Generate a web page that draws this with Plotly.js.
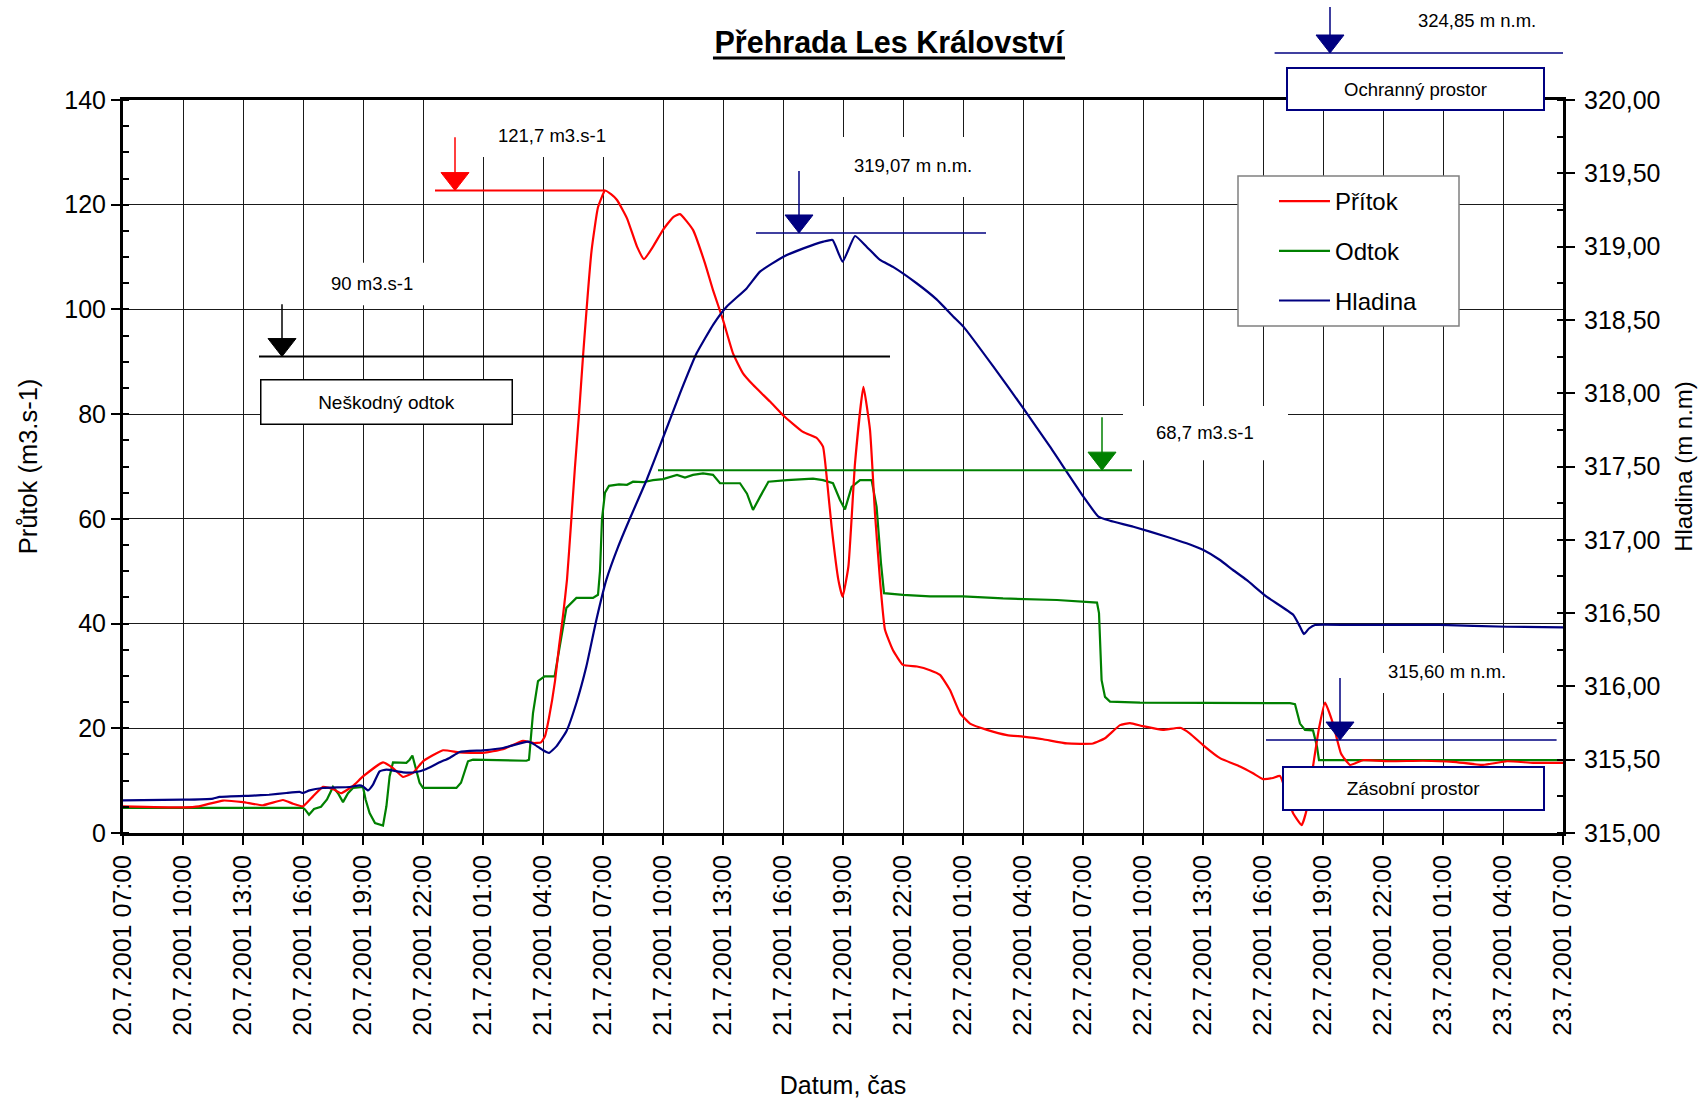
<!DOCTYPE html>
<html><head><meta charset="utf-8">
<script src="https://cdn.plot.ly/plotly-3.0.1.min.js"></script>
<style>html,body{margin:0;padding:0;background:#fff;} #chart{width:1704px;height:1103px;}</style>
</head><body><div id="chart"></div>
<script>
// hours after 20.7.2001 07:00
const pritokHours = [0,3,3.8,5,6,7,8,8.5,9,9.5,10,10.5,10.9,11.5,12,13,13.5,14,14.5,15,16,16.8,18,19,20,20.5,20.9,21.1,21.3,21.6,21.8,22.0,22.2,22.4,22.6,22.8,23.0,23.43,23.75,24.1,24.4,24.7,25.2,25.7,26.05,26.5,27.0,27.5,27.85,28.5,29.1,29.5,30.0,30.5,31.0,31.5,32.35,33.0,34.0,34.7,35.0,35.2,35.43,35.77,35.98,36.27,36.6,37.02,37.35,37.6,37.85,38.1,38.5,39.0,39.7,40.35,40.85,41.35,41.85,42.35,43.2,44.2,45.0,46.0,47.2,48.5,49.1,49.85,50.35,51.0,52.0,52.85,53.35,54.0,54.85,55.85,56.5,57.0,57.5,57.85,58.5,58.93,59.18,59.5,59.8,60.1,60.5,60.9,61.35,62.0,63.35,65,66.5,68,69.2,70.5,72];
const pritokValues = [5.1,4.9,5.1,6.2,5.9,5.3,6.3,5.6,5.1,7.0,8.8,8.4,7.6,9.0,10.8,13.5,12.4,10.7,11.5,13.7,15.8,15.4,15.3,16.0,17.6,17.2,17.3,18.5,22,29,35.6,41.5,48.4,59,70,80,91,111.3,119.5,122.7,122,120.9,117.4,112,109.6,112,115.2,117.6,118.2,115.2,108.8,103.7,98,91.6,87.8,85.6,82.4,79.8,76.6,75.4,73.8,67.4,58.5,48.3,45.1,50.9,70.6,85.2,77,61,48.3,38.8,34.9,32.1,31.8,31.1,30.2,27.3,22.9,20.9,19.7,18.7,18.4,17.9,17.1,17.1,18.1,20.6,21.0,20.4,19.7,20.1,19.0,16.8,14.3,12.7,11.4,10.3,10.5,10.9,3.8,1.5,4.4,12.7,20,24.9,20.9,15.2,13.0,13.9,13.7,13.8,13.6,13.0,13.7,13.4,13.4];

const odtokHours = [0,9,9.1,9.3,9.55,9.9,10.2,10.5,10.75,11.0,11.25,11.5,12.0,12.13,12.33,12.6,13.0,13.17,13.33,13.5,14.17,14.33,14.47,14.6,14.83,15.0,16.67,16.9,17.25,17.5,20.17,20.3,20.5,20.75,21.08,21.58,21.83,22.17,22.67,23.5,23.75,23.85,23.95,24.1,24.3,24.8,25.2,25.5,26.0,26.5,27.0,27.7,28.1,28.5,29.0,29.5,29.85,30.85,31.2,31.5,31.85,32.27,33.2,34.5,35.0,35.5,35.85,36.1,36.43,36.85,37.43,37.55,37.68,37.9,38.05,39.0,40.35,42.0,44.0,46.7,48.7,48.8,48.93,49.1,49.35,50.85,54.2,58.35,58.6,58.85,59.1,59.5,59.7,59.8,61,65,68,72];
const odtokValues = [4.8,4.8,4.5,3.5,4.6,5.0,6.4,8.8,7.6,5.9,7.6,8.6,8.8,6.4,3.8,1.9,1.4,5.1,10.8,13.5,13.4,14.0,14.8,12.7,9.6,8.6,8.6,9.6,13.7,14.0,13.8,14.0,22.9,29.0,29.9,29.9,35.7,43.0,44.9,44.9,45.5,50,60,65,66.3,66.6,66.5,67.1,67.0,67.4,67.6,68.4,67.9,68.4,68.7,68.4,66.8,66.8,64.8,61.7,64.2,67.1,67.4,67.7,67.4,66.8,63.6,61.8,66.1,67.4,67.4,65,62.3,51.5,45.8,45.5,45.2,45.2,44.8,44.5,44.0,42,29.2,26.0,25.1,24.9,24.9,24.8,24.6,20.9,19.7,19.6,16.5,13.9,13.9,13.9,13.8,13.9];

const hladinaHours = [0,3,4.5,4.83,6.5,7.3,8.17,8.83,9.0,9.33,10,11.33,11.83,12.0,12.25,12.5,12.83,13.17,14,14.67,15.17,15.83,16.33,16.83,18,19,20.25,20.58,21,21.3,21.67,22.17,22.67,23.17,23.67,24.17,24.75,25.35,26.18,27.02,27.85,28.68,29.52,30.18,31.18,31.85,33.02,34.02,35.02,35.48,35.98,36.6,37.18,37.85,38.52,39.68,40.68,41.52,42.02,43.52,45.02,46.35,48.02,48.77,49.35,50.52,52.18,53.18,54.02,54.85,55.5,56.18,57.18,58.52,58.85,59.05,59.3,59.6,61.3,65.85,69.2,72];
const hladinaValues = [315.223,315.227,315.235,315.246,315.255,315.261,315.273,315.28,315.273,315.291,315.307,315.314,315.325,315.318,315.291,315.33,315.421,315.432,315.414,315.416,315.437,315.482,315.512,315.553,315.564,315.58,315.623,315.603,315.564,315.546,315.591,315.694,315.887,316.137,316.455,316.728,316.95,317.147,317.408,317.703,317.999,318.272,318.47,318.59,318.715,318.829,318.931,318.988,319.034,319.045,318.897,319.072,318.999,318.909,318.86,318.75,318.64,318.522,318.454,318.181,317.897,317.635,317.294,317.158,317.13,317.089,317.021,316.976,316.93,316.862,316.794,316.726,316.612,316.487,316.407,316.357,316.395,316.419,316.419,316.419,316.407,316.403];

const seriesNames = ['Přítok','Odtok','Hladina'];
const chartTitle = 'Přehrada Les Království';
const xTitle = 'Datum, čas';
const yTitle = 'Průtok (m3.s-1)';
const y2Title = 'Hladina (m n.m)';

// reference marks (hour, value)
const peakInflow = {label:'121,7 m3.s-1', level:122.7, from:15.6, to:24.1, arrowAt:16.6, arrowTop:132.9};
const harmlessFlow = {label:'90 m3.s-1', level:91, from:6.8, to:38.35, arrowAt:7.95, arrowTop:101};
const peakLevel = {label:'319,07 m n.m.', level:319.093, from:31.65, to:43.15, arrowAt:33.8, arrowTop:319.516};
const peakOutflow = {label:'68,7 m3.s-1', level:69.3, from:26.75, to:50.45, arrowAt:48.95, arrowTop:79.4};
const storageLevel = {label:'315,60 m n.m.', level:315.634, from:57.15, to:71.68, arrowAt:60.85, arrowTop:316.057};
const floodLevel = {label:'324,85 m n.m.'};

const T0 = Date.UTC(2001, 6, 20, 7, 0, 0);
function toDate(h){ return new Date(T0 + h*3600000).toISOString().replace('T',' ').slice(0,19); }
// level axis (315..320) expressed on the flow axis (0..140) for background boxes
function lvlToFlow(h){ return (h - 315) * 28; }

const RED='#FF0000', GREEN='#008000', NAVY='#000080';
const FONT='Liberation Sans, Arial, sans-serif';

const traces = [
  {x: odtokHours.map(toDate), y: odtokValues, name: seriesNames[1], type:'scatter', mode:'lines',
   line:{color:GREEN, width:2.2}, legendgroup:'o', legendrank:2, hoverinfo:'skip'},
  {x: pritokHours.map(toDate), y: pritokValues, name: seriesNames[0], type:'scatter', mode:'lines',
   line:{color:RED, width:2.2, shape:'spline', smoothing:0.4}, legendgroup:'p', legendrank:1, hoverinfo:'skip'},
  {x: hladinaHours.map(toDate), y: hladinaValues, name: seriesNames[2], type:'scatter', mode:'lines', yaxis:'y2',
   line:{color:NAVY, width:2.2, shape:'spline', smoothing:0.4}, legendgroup:'h', legendrank:3, hoverinfo:'skip'}
];

const shapes = [];
function whiteBox(x0,x1,y0,y1){ shapes.push({type:'rect', layer:'between', xref:'x', yref:'y', x0:toDate(x0), x1:toDate(x1), y0:y0, y1:y1, fillcolor:'white', line:{width:0}}); }
function refLine(m, yref, color, w){
  shapes.push({type:'line', xref:'x', yref:yref, x0:toDate(m.from), x1:toDate(m.to), y0:m.level, y1:m.level, line:{color:color, width:w}});
  shapes.push({type:'line', xref:'x', yref:yref, x0:toDate(m.arrowAt), x1:toDate(m.arrowAt), y0:m.arrowTop, y1:m.level, line:{color:color, width:1.5}});
  shapes.push({type:'path', xref:'x', yref:yref, xsizemode:'pixel', ysizemode:'pixel', xanchor:toDate(m.arrowAt), yanchor:m.level,
    path:'M -14 18 L 14 18 L 0 0 Z', fillcolor:color, line:{color:color, width:1}});
}
// gridline covers behind labels
whiteBox(17.35, 25.1, 129.1, 140);
whiteBox(9.6, 17.35, 100.8, 108.9);
whiteBox(34.6, 44.35, lvlToFlow(319.338), lvlToFlow(319.748));
whiteBox(50, 58.25, 71.2, 81.55);
whiteBox(61.6, 70.6, lvlToFlow(315.955), lvlToFlow(316.228));
// legend frame
shapes.push({type:'rect', layer:'between', xref:'x', yref:'y', x0:toDate(55.75), x1:toDate(66.8), y0:96.83, y1:125.48, fillcolor:'white', line:{color:'#808080', width:1.5}});

refLine(peakInflow, 'y', RED, 2);
refLine(harmlessFlow, 'y', 'black', 2);
refLine(peakLevel, 'y2', NAVY, 1.5);
refLine(peakOutflow, 'y', GREEN, 2);
refLine(storageLevel, 'y2', NAVY, 1.5);
// flood-protection level above the plot
shapes.push({type:'line', xref:'x', yref:'paper', x0:toDate(57.58), x1:toDate(72), y0:1.0641, y1:1.0641, line:{color:NAVY, width:1.5}});
shapes.push({type:'line', xref:'x', yref:'paper', x0:toDate(60.35), x1:toDate(60.35), y0:1.1269, y1:1.0641, line:{color:NAVY, width:1.5}});
shapes.push({type:'path', xref:'x', yref:'paper', xsizemode:'pixel', ysizemode:'pixel', xanchor:toDate(60.35), yanchor:1.0641,
    path:'M -14 18 L 14 18 L 0 0 Z', fillcolor:NAVY, line:{color:NAVY, width:1}});
// title underline
shapes.push({type:'line', xref:'paper', yref:'paper', x0:0.4097, x1:0.6542, y0:1.0573, y1:1.0573, line:{color:'black', width:3}});

const lblFont = {family:FONT, size:18.5, color:'black'};
const annotations = [
  {text:peakInflow.label, xref:'x', yref:'y', x:toDate(21.45), y:133.3, showarrow:false, font:lblFont},
  {text:harmlessFlow.label, xref:'x', yref:'y', x:toDate(12.45), y:105.0, showarrow:false, font:lblFont},
  {text:peakLevel.label, xref:'x', yref:'y2', x:toDate(39.5), y:319.55, showarrow:false, font:lblFont},
  {text:peakOutflow.label, xref:'x', yref:'y', x:toDate(54.1), y:76.5, showarrow:false, font:lblFont},
  {text:storageLevel.label, xref:'x', yref:'y2', x:toDate(66.2), y:316.10, showarrow:false, font:lblFont},
  {text:floodLevel.label, xref:'x', yref:'paper', x:toDate(67.7), y:1.1091, yanchor:'middle', showarrow:false, font:lblFont},
  {text:'Neškodný odtok', xref:'x', yref:'y', x:toDate(13.15), y:82.4, showarrow:false, font:{family:FONT, size:19, color:'black'},
   bgcolor:'white', bordercolor:'black', borderwidth:1.5, borderpad:0, width:250, height:43},
  {text:'Ochranný prostor', xref:'x', yref:'paper', x:toDate(64.625), y:1.015, yanchor:'middle', showarrow:false, font:{family:FONT, size:18.5, color:'black'},
   bgcolor:'white', bordercolor:NAVY, borderwidth:2, borderpad:0, width:255, height:40},
  {text:'Zásobní prostor', xref:'x', yref:'y', x:toDate(64.525), y:8.5, showarrow:false, font:{family:FONT, size:19, color:'black'},
   bgcolor:'white', bordercolor:NAVY, borderwidth:2, borderpad:0, width:259, height:41}
];

const layout = {
  width:1704, height:1103,
  margin:{l:123, r:141, t:100, b:270, pad:0},
  paper_bgcolor:'white', plot_bgcolor:'white',
  separators:', ',
  font:{family:FONT, color:'black'},
  title:{text:'<b>'+chartTitle+'</b>', font:{family:FONT, size:30.5, color:'black'}, xref:'paper', x:0.532, xanchor:'center', yref:'container', y:1-42/1103, yanchor:'middle'},
  showlegend:true,
  legend:{x:0.7993, y:0.8922, xanchor:'left', yanchor:'top', bgcolor:'rgba(0,0,0,0)', borderwidth:0,
    font:{family:FONT, size:24, color:'black'}, itemwidth:51, tracegroupgap:15.5, traceorder:'grouped'},
  xaxis:{type:'date', range:[toDate(0), toDate(72)], tick0:toDate(0), dtick:3*3600000, tickformat:'%-d.%-m.%Y %H:%M',
    tickangle:-90, ticks:'outside', ticklen:9, tickwidth:2, tickcolor:'black',
    showline:true, linewidth:3, linecolor:'black', mirror:true,
    showgrid:true, gridcolor:'#1a1a1a', gridwidth:1, zeroline:false,
    tickfont:{family:FONT, size:25, color:'black'},
    title:{text:xTitle, font:{family:FONT, size:25, color:'black'}, standoff:42}},
  yaxis:{range:[0,140], tick0:0, dtick:20, ticks:'outside', ticklen:9, tickwidth:2, tickcolor:'black',
    minor:{dtick:5, ticks:'inside', ticklen:6, tickwidth:2, tickcolor:'black', showgrid:false},
    showline:true, linewidth:3, linecolor:'black', showgrid:true, gridcolor:'#1a1a1a', gridwidth:1, zeroline:false,
    tickfont:{family:FONT, size:25, color:'black'},
    title:{text:yTitle, font:{family:FONT, size:25.5, color:'black'}, standoff:20}},
  yaxis2:{overlaying:'y', side:'right', range:[315,320], tick0:315, dtick:0.5, tickformat:'.2f',
    ticks:'outside', ticklen:9, tickwidth:2, tickcolor:'black', ticklabelstandoff:4,
    minor:{dtick:0.25, ticks:'inside', ticklen:6, tickwidth:2, tickcolor:'black', showgrid:false},
    showline:true, linewidth:3, linecolor:'black', showgrid:false, zeroline:false,
    tickfont:{family:FONT, size:25, color:'black'},
    title:{text:y2Title, font:{family:FONT, size:24, color:'black'}, standoff:16}},
  shapes:shapes,
  annotations:annotations
};

Plotly.newPlot('chart', traces, layout, {staticPlot:true, displayModeBar:false});
</script>
</body></html>
